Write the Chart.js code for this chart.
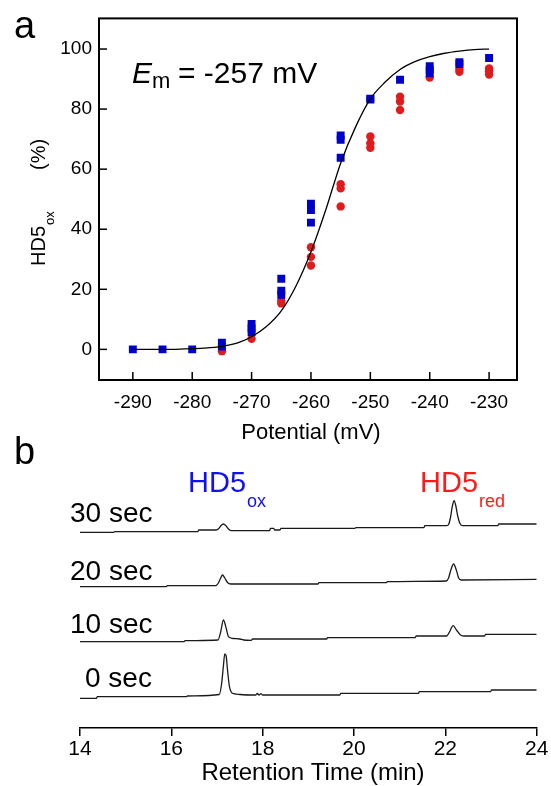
<!DOCTYPE html>
<html>
<head>
<meta charset="utf-8">
<script src="https://cdn.jsdelivr.net/npm/chart.js@4.4.1/dist/chart.umd.min.js"></script>
<style>
  html, body { margin:0; padding:0; background:#fff; }
  #wrap { position:relative; width:551px; height:786px; }
  canvas { position:absolute; left:0; }
  #chartA { top:0; }
  #chartB { top:420px; }
</style>
</head>
<body>
<div id="wrap">
  <canvas id="chartA" width="551" height="460"></canvas>
  <canvas id="chartB" width="551" height="366"></canvas>
</div>
<script>
// --- panel a data ---
const potentials = [-290,-285,-280,-275,-270,-265,-260,-255,-250,-245,-240,-235,-230];
const oxBlue = [[0],[0],[0],[2.2,0.9],[8.5,7.0,5.7],[23.5,19.5,18.2],[48.5,46.4,42.2],[71.2,69.8,63.8],[83.5,83.2],[89.8],[94.3,93.0,91.9],[95.6,95.0],[97.0]];
const oxRed = [[],[],[],[-0.6],[3.5],[16.2,15.3],[34.0,30.8,27.9],[55.0,53.6,47.6],[70.9,68.6,67.1],[84.1,82.5,79.7],[90.5],[93.3,92.4],[93.5,92.6,91.5]];
const fitX = [-290,-285,-282,-278,-275,-272,-270,-267.5,-265,-262.5,-260,-257.5,-255,-252.5,-250,-247.5,-245,-242.5,-240,-237.5,-235,-232.5,-230];
const fitY = [0,0,0.1,0.4,1.0,2.4,4.2,7.6,12.8,21.2,32.5,46.5,62,74,83.4,89,93.2,95.8,97.5,98.6,99.3,99.8,100];
const xTicksA = [-290,-280,-270,-260,-250,-240,-230];
const yTicksA = [0,20,40,60,80,100];

// --- panel b data (stacked traces, value = height above the time axis) ---
const t30 = [14.0,14.74,14.76,16.58,16.60,16.98,17.04,17.09,17.14,17.19,17.25,17.32,18.15,18.17,18.24,18.26,18.38,18.40,20.02,20.04,21.53,21.55,22.02,22.07,22.11,22.15,22.19,22.23,22.27,22.32,22.38,23.15,23.17,24.0];
const v30 = [195.7,195.7,196.3,196.3,198,198,199.5,202.5,204,202.5,199,197.3,197.3,199.7,199.7,198,198,199.7,199.7,200.3,200.3,202.3,202.3,203.5,210,221,227.3,222,212,204.5,202.3,202.3,204,204];
const t20 = [14.0,15.89,15.91,16.97,17.03,17.08,17.12,17.17,17.23,17.30,19.21,19.23,20.71,20.73,22.02,22.07,22.12,22.18,22.24,22.29,22.35,24.0];
const v20 = [141.3,141.3,142.3,142.3,145,150,153,150,145.5,144,144,145.3,145.3,146.3,147,150,158,164,158,150,148,148.7];
const t10 = [14.0,16.28,16.30,17.02,17.08,17.14,17.20,17.25,17.35,17.50,17.58,17.75,17.78,19.40,19.42,21.34,21.36,22.03,22.09,22.17,22.25,22.33,22.40,22.86,22.88,24.0];
const v10 = [86.3,86.3,87.3,88,96,108,100,91.3,89.5,89,88,87.7,89,89,90.3,90.3,92,92,96,102.3,97.5,93,92,92,93.7,93.7];
const t0 = [14.0,14.36,14.38,16.33,16.35,17.05,17.10,17.14,17.17,17.20,17.23,17.27,17.31,17.37,17.50,17.85,17.88,17.92,17.96,18.0,19.69,19.71,21.41,21.43,22.99,23.01,24.0];
const v0 = [29.7,29.7,31.3,31.3,32,33.5,44,62,74,72,58,42,36,34.3,33.5,33,34.5,33,34.3,33,33,34.7,34.7,36.3,36.3,38,38];
const traceLabels = ["30 sec","20 sec","10 sec","0 sec"];

const FONT = '"Liberation Sans", Arial, Helvetica, sans-serif';
Chart.defaults.font.family = FONT;
Chart.defaults.color = "#000";

const BLUE = "#0000cd";
const RED = "#e01b1b";

function pairs(xs, ys){ return xs.map((x,i)=>({x:x, y:ys[i]})); }
function replicates(groups){
  const pts = [];
  groups.forEach((g,i)=>g.forEach(v=>pts.push({x:potentials[i], y:v})));
  return pts;
}

function subText(ctx, x, y, main, sub, size, subSize, drop, color){
  ctx.fillStyle = color;
  ctx.font = size + "px " + FONT;
  ctx.fillText(main, x, y);
  const w = ctx.measureText(main).width;
  ctx.font = subSize + "px " + FONT;
  ctx.fillText(sub, x + w + 1, y + drop);
}

// frame, inward ticks and labels of panel a
const panelA = {
  id: "panelA",
  afterDatasetsDraw(chart){
    const {ctx, chartArea:a, scales:{x, y}} = chart;
    ctx.save();
    ctx.strokeStyle = "#000";
    ctx.lineWidth = 1.5;
    x.ticks.forEach(t=>{
      const px = x.getPixelForValue(t.value);
      ctx.beginPath(); ctx.moveTo(px, a.bottom); ctx.lineTo(px, a.bottom - 8); ctx.stroke();
    });
    y.ticks.forEach(t=>{
      const py = y.getPixelForValue(t.value);
      ctx.beginPath(); ctx.moveTo(a.left, py); ctx.lineTo(a.left + 8, py); ctx.stroke();
    });
    ctx.lineWidth = 2;
    ctx.strokeRect(a.left, a.top, a.width, a.height);

    ctx.textBaseline = "alphabetic";
    ctx.textAlign = "left";
    ctx.fillStyle = "#000";
    ctx.font = "38px " + FONT;
    ctx.fillText("a", 14, 38);

    ctx.font = "italic 30px " + FONT;
    ctx.fillText("E", 132, 83);
    ctx.font = "22px " + FONT;
    ctx.fillText("m", 152, 88);
    ctx.font = "30px " + FONT;
    ctx.fillText("= -257 mV", 178, 83);

    ctx.font = "22px " + FONT;
    ctx.textAlign = "center";
    ctx.fillText("Potential (mV)", 311, 439);

    // rotated y title
    ctx.textAlign = "left";
    ctx.translate(45, 266);
    ctx.rotate(-Math.PI/2);
    subText(ctx, 0, 0, "HD5", "ox", 20, 13, 9, "#000");
    ctx.font = "20px " + FONT;
    ctx.fillText("(%)", 96, 0);
    ctx.restore();
  }
};

new Chart(document.getElementById("chartA"), {
  type: "scatter",
  data: {
    datasets: [
      { type:"line", data:pairs(fitX, fitY), borderColor:"#000", borderWidth:1.3, pointRadius:0,
        cubicInterpolationMode:"monotone", fill:false, order:0 },
      { data:replicates(oxBlue), pointStyle:"rect", pointRadius:5.6, backgroundColor:BLUE,
        borderWidth:0, order:1 },
      { data:replicates(oxRed), pointStyle:"circle", pointRadius:4.2, backgroundColor:RED,
        borderWidth:0, order:2 }
    ]
  },
  options: {
    responsive:false, animation:false, devicePixelRatio:1,
    layout:{ padding:{ left:0, right:34, top:14, bottom:0 } },
    plugins:{ legend:{display:false}, tooltip:{enabled:false} },
    scales:{
      x:{ type:"linear", min:-295.7, max:-225.3,
          grid:{display:false, drawTicks:false}, border:{display:false},
          ticks:{ font:{size:19}, padding:11 },
          afterBuildTicks:s=>{ s.ticks = xTicksA.map(v=>({value:v})); },
          afterFit:s=>{ s.height = 80; } },
      y:{ type:"linear", min:-10.2, max:110.2,
          grid:{display:false, drawTicks:false}, border:{display:false},
          ticks:{ font:{size:19}, padding:7 },
          afterBuildTicks:s=>{ s.ticks = yTicksA.map(v=>({value:v})); },
          afterFit:s=>{ s.width = 99; } }
    }
  },
  plugins:[panelA]
});

// labels of panel b (canvas starts at y = 420)
const panelB = {
  id: "panelB",
  afterDraw(chart){
    const ctx = chart.ctx;
    ctx.save();
    ctx.textBaseline = "alphabetic";
    ctx.textAlign = "left";
    ctx.fillStyle = "#000";
    ctx.font = "38px " + FONT;
    ctx.fillText("b", 14, 464 - 420);

    ctx.font = "28px " + FONT;
    const labelX = [70, 70, 70, 85];
    const labelY = [522, 580, 633, 687];
    traceLabels.forEach((s,i)=>ctx.fillText(s, labelX[i], labelY[i] - 420));

    subText(ctx, 188, 492 - 420, "HD5", "ox", 29, 18, 15, "#1010f0");
    subText(ctx, 420, 492 - 420, "HD5", "red", 29, 18, 15, "#ff1a1a");

    ctx.fillStyle = "#000";
    ctx.font = "24px " + FONT;
    ctx.textAlign = "center";
    ctx.fillText("Retention Time (min)", 313, 780 - 420);
    ctx.restore();
  }
};

const traceStyle = { borderColor:"#1a1a1a", borderWidth:1.3, pointRadius:0, fill:false,
  cubicInterpolationMode:"monotone" };

new Chart(document.getElementById("chartB"), {
  type: "line",
  data: {
    datasets: [
      Object.assign({ data:pairs(t30, v30) }, traceStyle),
      Object.assign({ data:pairs(t20, v20) }, traceStyle),
      Object.assign({ data:pairs(t10, v10) }, traceStyle),
      Object.assign({ data:pairs(t0, v0) }, traceStyle)
    ]
  },
  options: {
    responsive:false, animation:false, devicePixelRatio:1,
    layout:{ padding:{ left:80, right:14.3, top:0, bottom:0 } },
    plugins:{ legend:{display:false}, tooltip:{enabled:false} },
    scales:{
      x:{ type:"linear", min:14, max:24,
          ticks:{ stepSize:2, font:{size:21}, padding:1 },
          grid:{ drawOnChartArea:false, drawTicks:true, tickLength:8, color:"#000", lineWidth:1.5 },
          border:{ display:true, color:"#000", width:1.5 },
          afterFit:s=>{ s.height = 58; } },
      y:{ display:false, min:0, max:308 }
    }
  },
  plugins:[panelB]
});
</script>
</body>
</html>
